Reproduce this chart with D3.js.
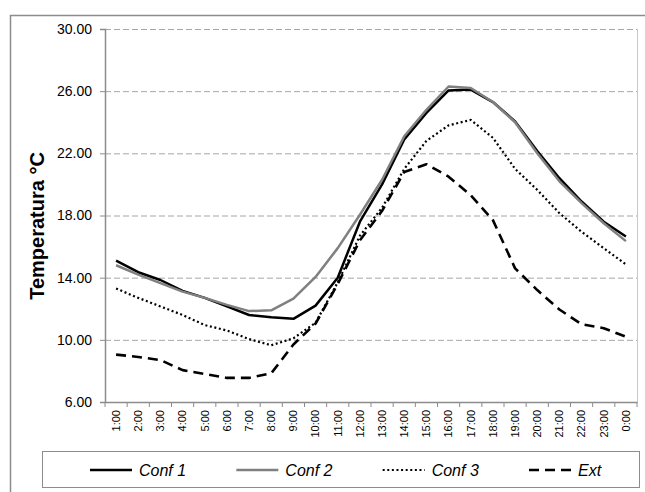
<!DOCTYPE html>
<html>
<head>
<meta charset="utf-8">
<script src="https://cdn.jsdelivr.net/npm/d3@7"></script>
<style>
  body { margin: 0; background: #fff; }
  text { font-family: "Liberation Sans", Arial, sans-serif; }
</style>
</head>
<body>
<div id="chart"></div>
<script>
const width = 645, height = 492;
const margin = { top: 29, right: 8, bottom: 90, left: 105 };

// data
const hours = ["1:00","2:00","3:00","4:00","5:00","6:00","7:00","8:00","9:00","10:00","11:00","12:00",
  "13:00","14:00","15:00","16:00","17:00","18:00","19:00","20:00","21:00","22:00","23:00","0:00"];
const conf1 = [15.1, 14.35, 13.85, 13.15, 12.7, 12.15, 11.6, 11.45, 11.35, 12.2, 14.0, 17.6,
  20.0, 22.9, 24.6, 26.05, 26.1, 25.3, 24.05, 22.15, 20.4, 18.9, 17.6, 16.65];
const conf2 = [14.8, 14.2, 13.65, 13.1, 12.7, 12.25, 11.85, 11.9, 12.65, 14.05, 15.9, 18.05,
  20.3, 23.1, 24.8, 26.3, 26.2, 25.3, 24.0, 22.0, 20.2, 18.8, 17.5, 16.35];
const conf3 = [13.3, 12.7, 12.15, 11.6, 10.95, 10.6, 10.05, 9.65, 10.1, 11.1, 13.7, 16.7,
  18.5, 21.0, 22.8, 23.8, 24.15, 23.0, 21.0, 19.65, 18.15, 16.95, 15.9, 14.85];
const ext = [9.05, 8.9, 8.7, 8.05, 7.8, 7.55, 7.55, 7.85, 9.7, 11.05, 13.6, 16.4,
  18.3, 20.8, 21.3, 20.5, 19.3, 17.7, 14.6, 13.2, 11.95, 11.0, 10.75, 10.2];
const yTicks = [6, 10, 14, 18, 22, 26, 30];
const seriesNames = ["Conf 1", "Conf 2", "Conf 3", "Ext"];

const series = [
  { name: seriesNames[0], values: conf1, color: "#000", width: 2.5, dash: null },
  { name: seriesNames[1], values: conf2, color: "#808080", width: 2.5, dash: null },
  { name: seriesNames[2], values: conf3, color: "#000", width: 2.2, dash: "2,2.6" },
  { name: seriesNames[3], values: ext, color: "#000", width: 2.6, dash: "10,6" }
];

const svg = d3.select("#chart").append("svg")
  .attr("width", width)
  .attr("height", height);

svg.append("rect").attr("width", width).attr("height", height).attr("fill", "#fff");

// outer chart border
svg.append("rect")
  .attr("x", 10.5).attr("y", 15.5)
  .attr("width", 700).attr("height", 600)
  .attr("fill", "none").attr("stroke", "#8c8c8c").attr("stroke-width", 1.5);

const innerW = width - margin.left - margin.right;
const innerH = height - margin.top - margin.bottom;

const chart = svg.append("g")
  .attr("transform", `translate(${margin.left},${margin.top})`);

const x = d3.scaleBand().domain(hours).range([0, innerW]).padding(0);
const y = d3.scaleLinear().domain([6, 30]).range([innerH, 0]);

// GRID
chart.append("g")
  .selectAll("line")
  .data(yTicks.filter(d => d > 6))
  .join("line")
  .attr("x1", 0).attr("x2", innerW)
  .attr("y1", d => y(d) + 0.5).attr("y2", d => y(d) + 0.5)
  .attr("stroke", "#a6a6a6")
  .attr("stroke-dasharray", "6,3");

// plot area right border
chart.append("line")
  .attr("x1", innerW + 0.5).attr("x2", innerW + 0.5)
  .attr("y1", 0).attr("y2", innerH)
  .attr("stroke", "#c8c8c8");

// Y AXIS
const yAxis = chart.append("g")
  .call(d3.axisLeft(y).tickValues(yTicks).tickFormat(d3.format(".2f")).tickSize(5).tickPadding(8));
yAxis.select(".domain").attr("stroke", "#8c8c8c").attr("stroke-width", 1.5);
yAxis.selectAll(".tick line").attr("stroke", "#8c8c8c");
yAxis.selectAll(".tick text")
  .attr("font-size", 14).attr("fill", "#000")
  .style("font-family", "'Liberation Sans', Arial, sans-serif");

// X AXIS
const xAxis = chart.append("g")
  .attr("transform", `translate(0,${innerH})`)
  .call(d3.axisBottom(x).tickSize(0).tickPadding(0));
xAxis.select(".domain").attr("stroke", "#8c8c8c").attr("stroke-width", 1.5);
xAxis.selectAll(".tick text")
  .attr("font-size", 11).attr("fill", "#000")
  .style("font-family", "'Liberation Sans', Arial, sans-serif")
  .attr("text-anchor", "end")
  .attr("transform", "rotate(-90)")
  .attr("x", -8).attr("y", 0).attr("dy", "0.35em");

// tick marks at category boundaries
const bounds = hours.map(h => x(h)).concat([innerW]);
xAxis.append("g")
  .selectAll("line")
  .data(bounds)
  .join("line")
  .attr("x1", d => d).attr("x2", d => d)
  .attr("y1", 0).attr("y2", 5)
  .attr("stroke", "#8c8c8c");

// Y title
svg.append("text")
  .attr("transform", "translate(44,226) rotate(-90)")
  .attr("text-anchor", "middle")
  .attr("font-size", 20)
  .attr("font-weight", "bold")
  .text("Temperatura °C");

// LINES
const line = d3.line()
  .x((d, i) => x(hours[i]) + x.bandwidth() / 2)
  .y(d => y(d));

series.forEach(s => {
  chart.append("path")
    .datum(s.values)
    .attr("fill", "none")
    .attr("stroke", s.color)
    .attr("stroke-width", s.width)
    .attr("stroke-dasharray", s.dash)
    .attr("stroke-linejoin", "round")
    .attr("d", line);
});

// LEGEND
svg.append("rect")
  .attr("x", 42.5).attr("y", 451.5)
  .attr("width", 597).attr("height", 36)
  .attr("fill", "#fff").attr("stroke", "#8c8c8c");

const legendX = d3.scalePoint().domain(seriesNames).range([139, 578]);

const item = svg.append("g").selectAll("g")
  .data(series)
  .join("g")
  .attr("transform", d => `translate(${legendX(d.name)},470)`);

item.append("line")
  .attr("x1", -49).attr("x2", -7)
  .attr("stroke", d => d.color)
  .attr("stroke-width", d => d.width)
  .attr("stroke-dasharray", d => d.dash);

item.append("text")
  .attr("dy", "0.35em")
  .attr("font-size", 16)
  .attr("font-style", "italic")
  .text(d => d.name);
</script>
</body>
</html>
